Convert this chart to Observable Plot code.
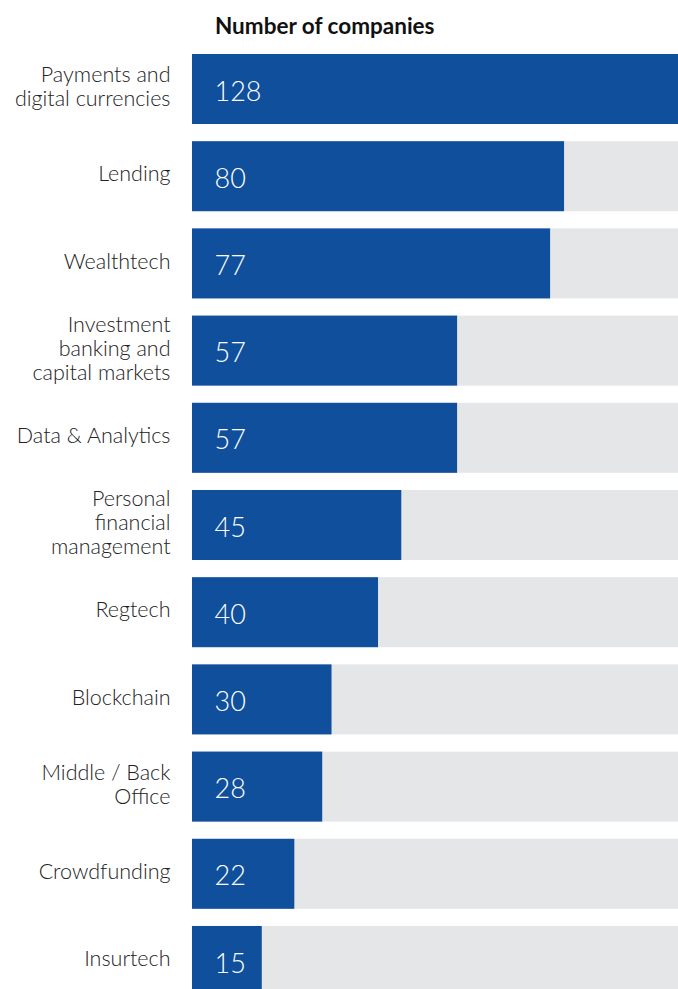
<!DOCTYPE html>
<html>
<head>
<meta charset="utf-8">
<script src="https://cdn.jsdelivr.net/npm/d3@7"></script>
<script src="https://cdn.jsdelivr.net/npm/@observablehq/plot@0.6"></script>
<style>
  body { margin: 0; background: #fff; font-family: Lato, sans-serif; }
  #title { height: 54px; position: relative; }
  #title span { position: absolute; left: 215px; top: 12px; font-size: 22.5px; font-weight: 700; color: #111; white-space: nowrap; }
  svg { display: block; }
</style>
</head>
<body>
<div id="title"><span>Number of companies</span></div>
<div id="chart"></div>
<script>
const categories = [
  "Payments and\ndigital currencies",
  "Lending",
  "Wealthtech",
  "Investment\nbanking and\ncapital markets",
  "Data & Analytics",
  "Personal\nfinancial\nmanagement",
  "Regtech",
  "Blockchain",
  "Middle / Back\nOffice",
  "Crowdfunding",
  "Insurtech"
];
const values = [128, 80, 77, 57, 57, 45, 40, 30, 28, 22, 15];

const rows = categories.map((c, i) => ({category: c, value: values[i]}));
const maxValue = d3.max(values);

const chart = Plot.plot({
  width: 678,
  height: 942,
  marginLeft: 192,
  marginRight: 0,
  marginTop: 0,
  marginBottom: 0,
  style: {fontFamily: "Lato, sans-serif", background: "#fff"},
  x: {domain: [0, 104.5], clamp: true, axis: null},
  y: {domain: categories, paddingInner: 0.197, paddingOuter: 0, round: false, axis: null},
  marks: [
    Plot.barX(rows, {y: "category", x: () => maxValue, fill: "#e5e6e8"}),
    Plot.barX(rows, {y: "category", x: "value", fill: "#104f9c"}),
    Plot.text(rows, {
      y: "category", x: 0, text: d => String(d.value),
      textAnchor: "start", dx: 22, dy: 2.5, fill: "#fff",
      fontSize: 27, fontWeight: 300
    }),
    Plot.text(rows, {
      y: "category", x: 0, text: "category",
      textAnchor: "end", dx: -22, dy: -3, fill: "#222",
      fontSize: 21.5, fontWeight: 300, lineHeight: 1.12, lineAnchor: "middle"
    })
  ]
});
document.getElementById("chart").appendChild(chart);
</script>
</body>
</html>
